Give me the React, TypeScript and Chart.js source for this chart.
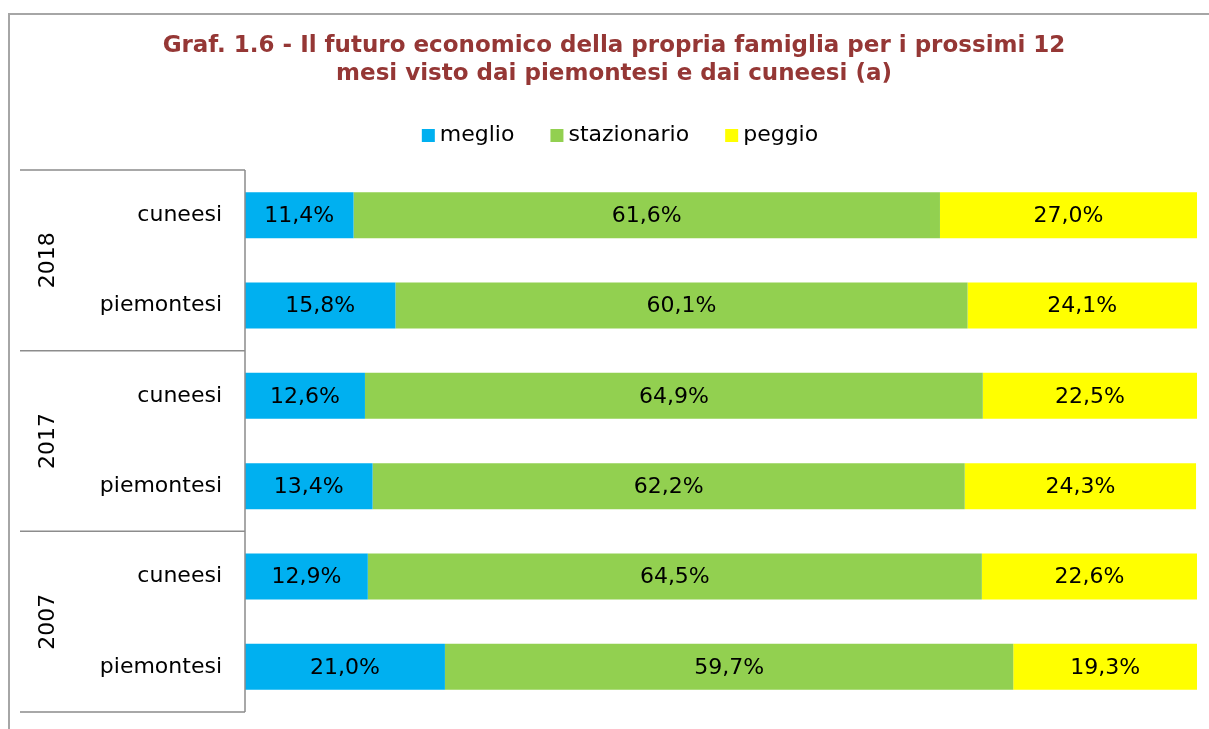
import React, { useEffect, useRef } from "react";
import { Chart, registerables } from "chart.js";

Chart.register(...registerables);

// ---- data ----
const CATEGORIES = ["cuneesi", "piemontesi", "cuneesi", "piemontesi", "cuneesi", "piemontesi"];
const YEARS = ["2018", "2017", "2007"];
const GROUP_SIZE = 2;
const SERIES_NAMES = ["meglio", "stazionario", "peggio"];
const MEGLIO = [11.4, 15.8, 12.6, 13.4, 12.9, 21.0];
const STAZIONARIO = [61.6, 60.1, 64.9, 62.2, 64.5, 59.7];
const PEGGIO = [27.0, 24.1, 22.5, 24.3, 22.6, 19.3];
const TITLE_LINES = [
  "Graf. 1.6 - Il futuro economico della propria famiglia per i prossimi 12",
  "mesi visto dai piemontesi e dai cuneesi (a)",
];

// ---- styles ----
const FONT = "'DejaVu Sans', Verdana, sans-serif";
const COLORS = ["#00B0F0", "#92D050", "#FFFF00"];
const TITLE_COLOR = "#953735";
const AXIS_COLOR = "#8C8C8C";
const FRAME_COLOR = "#A6A6A6";

const fmt = (v: number) => v.toFixed(1).replace(".", ",") + "%";

const decorPlugin = {
  id: "decor",
  afterDatasetsDraw(chart: any) {
    const ctx = chart.ctx;
    ctx.save();
    ctx.fillStyle = "#000";
    ctx.font = `22px ${FONT}`;
    ctx.textAlign = "center";
    ctx.textBaseline = "middle";
    chart.data.datasets.forEach((ds: any, di: number) => {
      const meta = chart.getDatasetMeta(di);
      meta.data.forEach((el: any, i: number) => {
        const cx = (el.x + el.base) / 2;
        ctx.fillText(fmt(ds.data[i]), cx, el.y + 1);
      });
    });
    ctx.restore();
  },
  afterDraw(chart: any) {
    const ctx = chart.ctx;
    const area = chart.chartArea;
    const ys = chart.scales.y;
    ctx.save();

    // outer frame
    ctx.strokeStyle = FRAME_COLOR;
    ctx.lineWidth = 2;
    ctx.beginPath();
    ctx.moveTo(9, chart.height + 2);
    ctx.lineTo(9, 14);
    ctx.lineTo(chart.width + 2, 14);
    ctx.stroke();

    // title
    ctx.fillStyle = TITLE_COLOR;
    ctx.font = `bold 23px ${FONT}`;
    ctx.textAlign = "center";
    ctx.textBaseline = "middle";
    TITLE_LINES.forEach((t, i) => ctx.fillText(t, 614, 46 + i * 28));

    // legend
    ctx.font = `22px ${FONT}`;
    const box = 13;
    const boxGap = 5;
    const itemGap = 36;
    const items = chart.data.datasets.map((ds: any) => ({
      label: ds.label,
      color: ds.backgroundColor,
      w: box + boxGap + ctx.measureText(ds.label).width,
    }));
    const total = items.reduce((s: number, it: any) => s + it.w, 0) + itemGap * (items.length - 1);
    let lx = 620 - total / 2;
    const ly = 135.5;
    ctx.textAlign = "left";
    items.forEach((it: any) => {
      ctx.fillStyle = it.color;
      ctx.fillRect(lx, ly - box / 2, box, box);
      ctx.fillStyle = "#000";
      ctx.fillText(it.label, lx + box + boxGap, ly);
      lx += it.w + itemGap;
    });

    // category axis with year groups
    const step = ys.getPixelForValue(1) - ys.getPixelForValue(0);
    ctx.strokeStyle = AXIS_COLOR;
    ctx.lineWidth = 1.5;
    ctx.beginPath();
    ctx.moveTo(area.left, area.top);
    ctx.lineTo(area.left, area.bottom);
    for (let g = 0; g <= YEARS.length; g++) {
      const yy = ys.getPixelForValue(g * GROUP_SIZE) - step / 2;
      ctx.moveTo(20, yy);
      ctx.lineTo(area.left, yy);
    }
    ctx.stroke();

    ctx.fillStyle = "#000";
    ctx.font = `22px ${FONT}`;
    ctx.textAlign = "center";
    ctx.textBaseline = "middle";
    YEARS.forEach((yr, g) => {
      const y0 = ys.getPixelForValue(g * GROUP_SIZE) - step / 2;
      const y1 = ys.getPixelForValue(g * GROUP_SIZE + GROUP_SIZE - 1) + step / 2;
      ctx.save();
      ctx.translate(48, (y0 + y1) / 2);
      ctx.rotate(-Math.PI / 2);
      ctx.fillText(yr, 0, 0);
      ctx.restore();
    });

    ctx.restore();
  },
};

export default function App() {
  const ref = useRef<HTMLCanvasElement | null>(null);

  useEffect(() => {
    document.body.style.margin = "0";
    document.body.style.overflow = "hidden";
    const canvas = ref.current;
    if (!canvas) return;
    const values = [MEGLIO, STAZIONARIO, PEGGIO];
    const chart = new Chart(canvas, {
      type: "bar",
      data: {
        labels: CATEGORIES,
        datasets: SERIES_NAMES.map((name, i) => ({
          label: name,
          data: values[i],
          backgroundColor: COLORS[i],
          borderWidth: 0,
          categoryPercentage: 1,
          barPercentage: 0.51,
        })),
      },
      options: {
        indexAxis: "y",
        responsive: false,
        animation: false,
        devicePixelRatio: 1,
        layout: { padding: { top: 170, right: 12, bottom: 17, left: 0 } },
        plugins: {
          legend: { display: false },
          title: { display: false },
          tooltip: { enabled: false },
        },
        scales: {
          x: {
            stacked: true,
            min: 0,
            max: 100,
            display: false,
          },
          y: {
            stacked: true,
            grid: { display: false, drawTicks: false },
            border: { display: false },
            ticks: {
              color: "#000",
              font: { family: FONT, size: 22 },
              padding: 23,
            },
            afterFit: (scale: any) => {
              scale.width = 245;
              scale.paddingTop = 0;
              scale.paddingBottom = 0;
            },
          },
        },
      },
      plugins: [decorPlugin],
    });
    return () => chart.destroy();
  }, []);

  return (
    <div style={{ width: 1209, height: 729, background: "#fff" }}>
      <canvas ref={ref} width={1209} height={729} style={{ display: "block" }} />
    </div>
  );
}
